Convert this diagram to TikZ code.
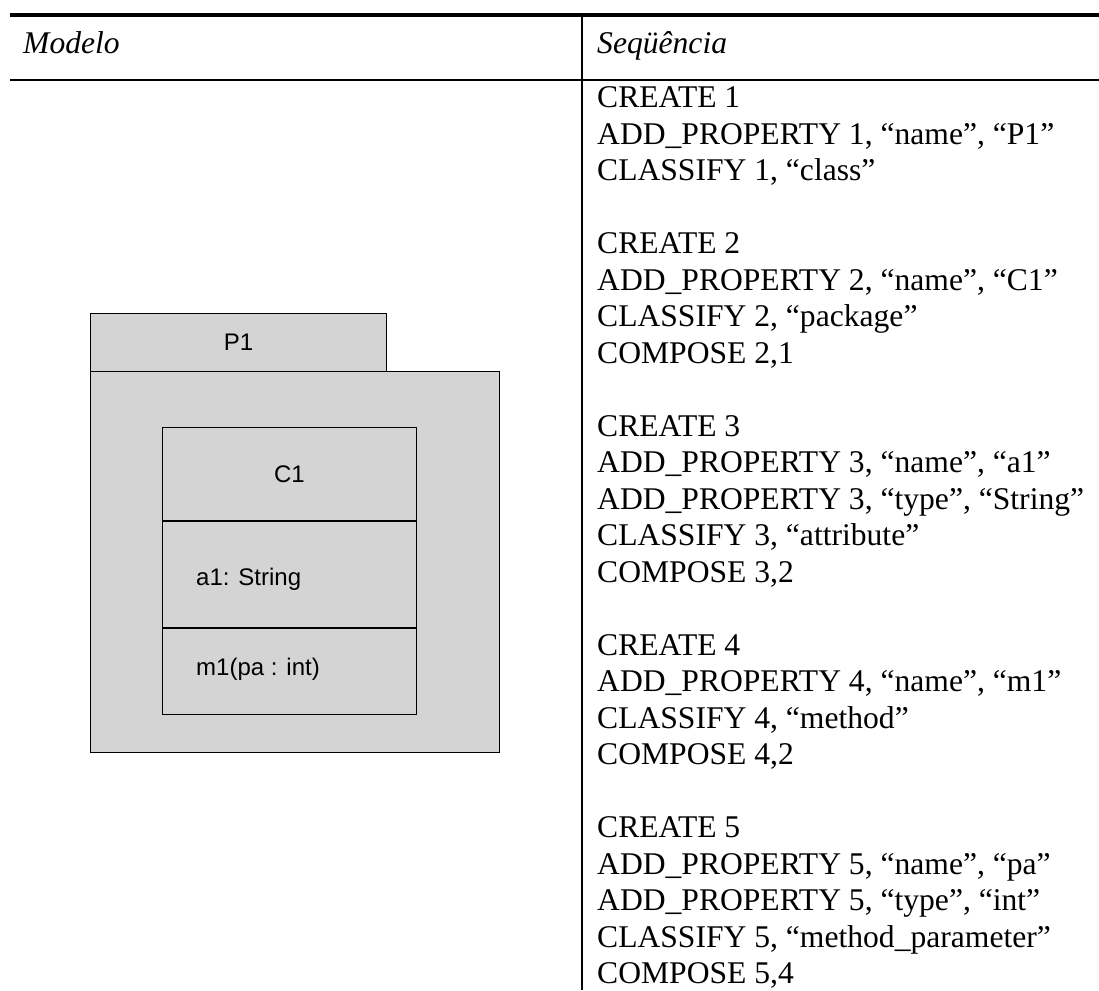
\documentclass[tikz,border=0pt]{standalone}
\usepackage{fontspec}
\setmainfont{Liberation Serif}
\newfontfamily\umlfont{Liberation Sans}
\definecolor{pkggrey}{HTML}{D4D4D4}
\tikzset{
  rulethick/.style={line width=3.5pt},
  rulethin/.style={line width=2pt},
  pkgbox/.style={draw=black, fill=pkggrey, line width=1pt, rectangle,
                 inner sep=0pt, anchor=north west},
  umllabel/.style={font=\umlfont\fontsize{24pt}{28pt}\selectfont, inner sep=0pt},
  headlabel/.style={font=\fontsize{31.6pt}{36.6pt}\selectfont\itshape,
                    anchor=base west, inner sep=0pt},
  seqline/.style={font=\fontsize{31.6pt}{36.6pt}\selectfont,
                  anchor=base west, inner sep=0pt}
}
\begin{document}
\begin{tikzpicture}[x=1pt, y=-1pt]
\useasboundingbox (0,0) rectangle (1099,990);

% table rules
\coordinate (topL) at (10,15);
\coordinate (topR) at (1099,15);
\coordinate (midL) at (10,80);
\coordinate (midR) at (1099,80);
\coordinate (colT) at (582,15);
\coordinate (colB) at (582,990);
\draw[rulethin] (colT) -- (colB);
\draw[rulethick] (topL) -- (topR);
\draw[rulethin] (midL) -- (midR);

% column headings
\node[headlabel] (hmodel) at (23,53) {Modelo};
\node[headlabel] (hseq) at (597,53) {Seqüência};

% package P1 with its tab
\node[pkgbox, minimum width=409pt, minimum height=381pt] (body) at (90,371) {};
\node[pkgbox, minimum width=296pt, minimum height=58pt] (tab) at (90,313) {};
\node[umllabel] (tablabel) at (tab.center) {P1};

% class C1 with its compartments
\node[pkgbox, minimum width=254pt, minimum height=93pt] (cname) at (162,427) {};
\node[pkgbox, minimum width=254pt, minimum height=106pt] (cattr) at (cname.south west) {};
\node[pkgbox, minimum width=254pt, minimum height=86pt] (cmeth) at (cattr.south west) {};
\node[umllabel] (cnamelabel) at (cname.center) {C1};
\node[umllabel, anchor=base west] (attrlabel) at (196,585) {a1: String};
\node[umllabel, anchor=base west] (methlabel) at (196,675) {m1(pa : int)};

% operation sequence, one line per node
\foreach \txt [count=\i from 0] in {
  {CREATE 1},
  {ADD\_PROPERTY 1, “name”, “P1”},
  {CLASSIFY 1, “class”},
  {},
  {CREATE 2},
  {ADD\_PROPERTY 2, “name”, “C1”},
  {CLASSIFY 2, “package”},
  {COMPOSE 2,1},
  {},
  {CREATE 3},
  {ADD\_PROPERTY 3, “name”, “a1”},
  {ADD\_PROPERTY 3, “type”, “String”},
  {CLASSIFY 3, “attribute”},
  {COMPOSE 3,2},
  {},
  {CREATE 4},
  {ADD\_PROPERTY 4, “name”, “m1”},
  {CLASSIFY 4, “method”},
  {COMPOSE 4,2},
  {},
  {CREATE 5},
  {ADD\_PROPERTY 5, “name”, “pa”},
  {ADD\_PROPERTY 5, “type”, “int”},
  {CLASSIFY 5, “method\_parameter”},
  {COMPOSE 5,4}
}{
  \node[seqline] (seq\i) at (597,{107.5+36.5*\i}) {\txt};
}
\end{tikzpicture}
\end{document}
